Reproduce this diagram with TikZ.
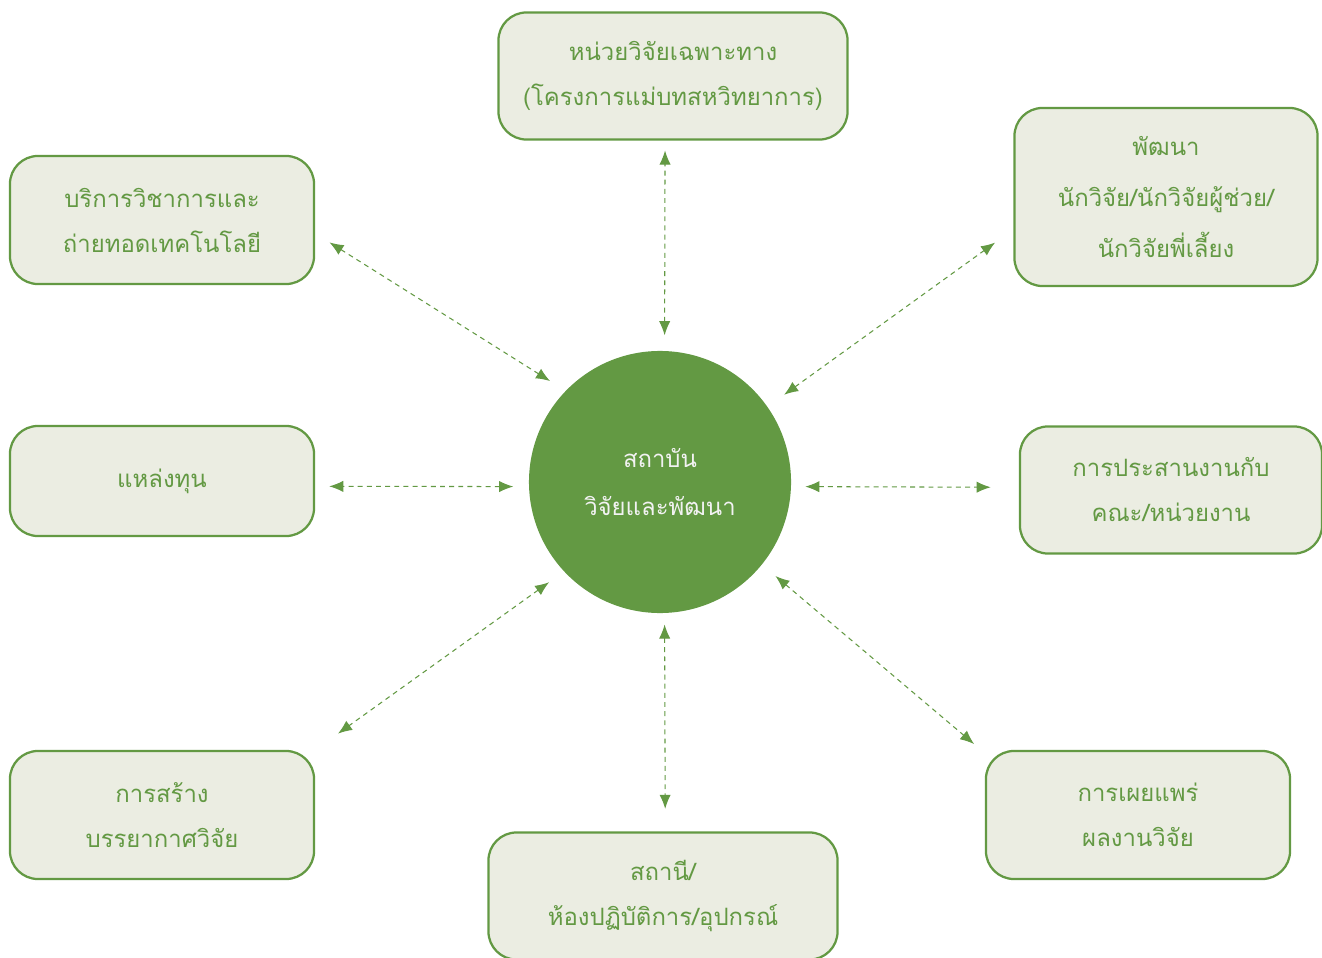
\documentclass[tikz,border=0pt]{standalone}
\usepackage{fontspec}
\newfontfamily\thai[Script=Thai]{Loma}
\usepackage{tikz}
\usetikzlibrary{shapes, arrows.meta, positioning}
\definecolor{rdgreen}{HTML}{639943}
\definecolor{rdpale}{HTML}{EBEDE2}
\definecolor{rdwhite}{HTML}{F2F2F2}
\tikzstyle{box} = [rectangle, rounded corners=0.7cm, draw=rdgreen, line width=1.6pt, fill=rdpale, text=rdgreen, align=center, minimum width=7.6cm, minimum height=3.2cm, font={\thai\fontsize{17pt}{32pt}\selectfont}]
\tikzstyle{hub} = [circle, fill=rdgreen, text=rdwhite, minimum size=6.55cm, inner sep=0pt, align=center, font={\thai\fontsize{17pt}{34pt}\selectfont}]
\tikzstyle{line} = [draw=rdgreen, line width=0.75pt, dash pattern=on 3.5pt off 3pt, {Latex[length=10pt,width=8pt]}-{Latex[length=10pt,width=8pt]}]

\begin{document}
\begin{tikzpicture}[x=0.025cm, y=-0.025cm]
			\clip (0,0) rectangle (1322,958);
			\useasboundingbox (0,0) rectangle (1322,958);
			\node [hub] (circ) at (660,482) {สถาบัน\\วิจัยและพัฒนา};
			\node [box, minimum width=8.725cm, minimum height=3.175cm] (topbox) at (673,76) {หน่วยวิจัยเฉพาะทาง\\(โครงการแม่บทสหวิทยาการ)};
			\node [box, minimum width=7.575cm, minimum height=4.45cm, font={\thai\fontsize{17pt}{36pt}\selectfont}] (trbox) at (1166,197) {พัฒนา\\นักวิจัย/นักวิจัยผู้ช่วย/\\นักวิจัยพี่เลี้ยง};
			\node [box] (ltbox) at (162,220) {บริการวิชาการและ\\ถ่ายทอดเทคโนโลยี};
			\node [box, minimum height=2.75cm] (lmbox) at (162,481) {แหล่งทุน};
			\node [box, minimum width=7.55cm, minimum height=3.175cm] (rmbox) at (1171,490) {การประสานงานกับ\\คณะ/หน่วยงาน};
			\node [box] (lbbox) at (162,815) {การสร้าง\\บรรยากาศวิจัย};
			\node [box, minimum width=8.725cm, minimum height=3.175cm] (botbox) at (663,896) {สถานี/\\ห้องปฏิบัติการ/อุปกรณ์};
			\node [box] (brbox) at (1138,815) {การเผยแพร่\\ผลงานวิจัย};

			\path [line, shorten <=11pt, shorten >=7pt] (circ.88) -- (topbox.263);
			\path [line, shorten <=8pt, shorten >=16pt] (circ.272) -- (botbox.88);
			\path [line, shorten <=11pt, shorten >=10pt] (circ.182) -- (lmbox.358);
			\path [line, shorten <=10pt, shorten >=20pt] (circ.358) -- (rmbox.179);
			\path [line, shorten <=13pt, shorten >=12pt] (circ.136.5) -- (ltbox.355);
			\path [line, shorten <=13pt, shorten >=20pt] (circ.223.5) -- (lbbox.23);
			\path [line, shorten <=14.5pt, shorten >=16pt] (circ.35) -- (trbox.192);
			\path [line, shorten <=12.5pt, shorten >=10pt] (circ.321.5) -- (brbox.158);
		\end{tikzpicture}
\end{document}
